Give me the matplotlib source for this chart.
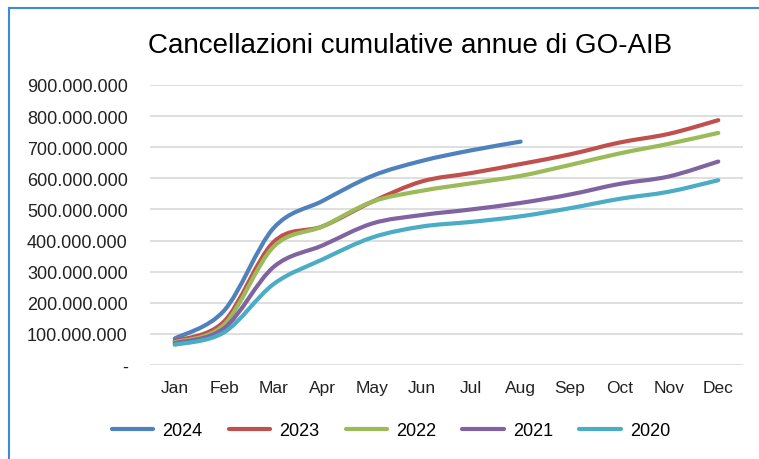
import numpy as np
import matplotlib
matplotlib.use("Agg")
import matplotlib.pyplot as plt
from matplotlib.path import Path
from matplotlib.patches import PathPatch
from matplotlib.lines import Line2D

months = ["Jan", "Feb", "Mar", "Apr", "May", "Jun", "Jul", "Aug", "Sep", "Oct", "Nov", "Dec"]
years = ["2024", "2023", "2022", "2021", "2020"]
colors = ["#4F81BD", "#C0504D", "#9BBB59", "#8064A2", "#4BACC6"]

v2024 = [85, 175, 440, 528, 608, 656, 690, 718]
v2023 = [77, 140, 395, 446, 525, 590, 617, 646, 677, 715, 743, 787]
v2022 = [73, 130, 380, 446, 525, 560, 584, 608, 643, 680, 711, 746]
v2021 = [70, 118, 315, 385, 455, 482, 500, 521, 548, 582, 606, 654]
v2020 = [65, 105, 260, 340, 410, 445, 460, 478, 504, 534, 557, 594]
series = [v2024, v2023, v2022, v2021, v2020]

fig = plt.figure(figsize=(7.59, 4.6), dpi=100)
ax = fig.add_axes([150 / 759, 1 - 366 / 460, 593 / 759, 280 / 460])

font = ["Liberation Sans", "DejaVu Sans"]


def smooth_path(x, y):
    # excel-like smoothed line: cubic bezier through the points
    pts = np.column_stack([x, y]).astype(float)
    n = len(pts)
    verts = [pts[0]]
    codes = [Path.MOVETO]
    for i in range(n - 1):
        p0 = pts[i - 1] if i > 0 else pts[i]
        p1 = pts[i]
        p2 = pts[i + 1]
        p3 = pts[i + 2] if i + 2 < n else pts[i + 1]
        c1 = p1 + (p2 - p0) / 6
        c2 = p2 - (p3 - p1) / 6
        verts += [c1, c2, p2]
        codes += [Path.CURVE4] * 3
    return Path(verts, codes)


for vals, col, yr in zip(series, colors, years):
    x = np.arange(len(vals))
    y = np.array(vals) * 1e6
    ax.add_patch(PathPatch(smooth_path(x, y), fill=False, edgecolor=col,
                           lw=3.0, capstyle="round", joinstyle="round", zorder=3))

ax.set_xlim(-0.5, 11.5)
ax.set_ylim(0, 900e6)
ax.set_yticks(np.arange(0, 901e6, 100e6))
ax.set_yticklabels(["-"] + ["{:,.0f}".format(v).replace(",", ".") for v in np.arange(100e6, 901e6, 100e6)],
                   fontsize=13, family=font, color="#222222")
ax.set_xticks(range(12))
ax.set_xticklabels(months, fontsize=12.5, family=font, color="#222222")
ax.tick_params(axis="both", length=0)
ax.tick_params(axis="y", pad=16)
ax.tick_params(axis="x", pad=11)
ax.grid(axis="y", color="#D9D9D9", lw=1.2)
ax.set_axisbelow(True)
for s in ax.spines.values():
    s.set_visible(False)

fig.text(410 / 759, 1 - 46 / 460, "Cancellazioni cumulative annue di GO-AIB",
         ha="center", va="center", fontsize=20, family=font)

handles = [Line2D([0], [0], color=c, lw=3.0, solid_capstyle="round") for c in colors]
fig.legend(handles, years, loc="center", bbox_to_anchor=(391 / 759, 1 - 432 / 460), ncol=5,
           frameon=False, prop={"family": font, "size": 13}, handlelength=2.3,
           handletextpad=0.5, columnspacing=1.45)

# frame of the chart box (only top and left edges visible)
fig.add_artist(Line2D([8.5 / 759, 1], [1 - 8.5 / 460, 1 - 8.5 / 460], color="#3D8BD4", lw=1.5))
fig.add_artist(Line2D([8.5 / 759, 8.5 / 759], [0, 1 - 8.5 / 460], color="#3D8BD4", lw=1.5))

fig.savefig("out.png", dpi=100)
